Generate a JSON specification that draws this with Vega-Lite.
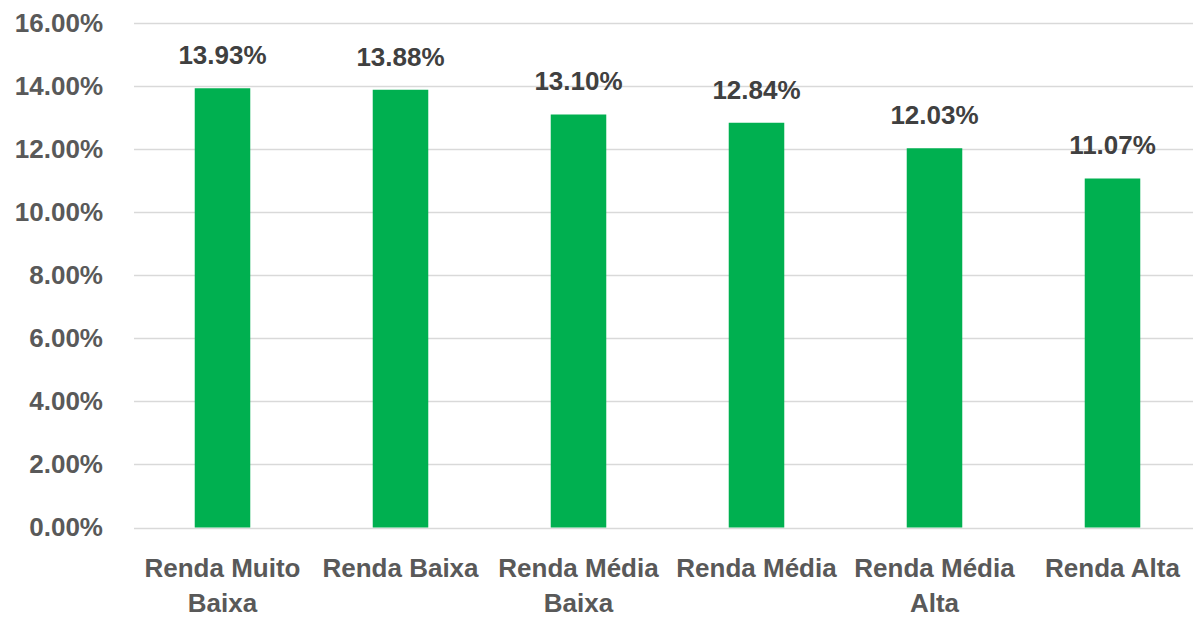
{
  "$schema": "https://vega.github.io/schema/vega-lite/v6.json",
  "width": 1059.5,
  "height": 504.5,
  "autosize": {"type": "none"},
  "padding": {"left": 133.5, "top": 23, "right": 0, "bottom": 89.5},
  "background": "white",
  "config": {"view": {"stroke": null}},
  "data": {
    "values": [
      {"categoria": "Renda Muito Baixa", "valor": 0.1393},
      {"categoria": "Renda Baixa", "valor": 0.1388},
      {"categoria": "Renda Média Baixa", "valor": 0.1310},
      {"categoria": "Renda Média", "valor": 0.1284},
      {"categoria": "Renda Média Alta", "valor": 0.1203},
      {"categoria": "Renda Alta", "valor": 0.1107}
    ]
  },
  "encoding": {
    "x": {
      "field": "categoria",
      "type": "nominal",
      "sort": null,
      "scale": {"range": [0, 1068], "paddingInner": 0.688, "paddingOuter": 0.344},
      "axis": {
        "title": null,
        "domain": false,
        "ticks": false,
        "tickSize": 0,
        "labelAngle": 0,
        "labelFont": "Liberation Sans",
        "labelFontWeight": "bold",
        "labelFontSize": 26,
        "labelColor": "#595959",
        "labelBaseline": "alphabetic",
        "labelPadding": 49,
        "labelLineHeight": 35,
        "labelLimit": 0,
        "labelExpr": "datum.label == 'Renda Muito Baixa' ? ['Renda Muito', 'Baixa'] : datum.label == 'Renda Média Baixa' ? ['Renda Média', 'Baixa'] : datum.label == 'Renda Média Alta' ? ['Renda Média', 'Alta'] : datum.label"
      }
    },
    "y": {
      "field": "valor",
      "type": "quantitative",
      "scale": {"domain": [0, 0.16], "nice": false},
      "axis": {
        "title": null,
        "format": ".2%",
        "values": [0, 0.02, 0.04, 0.06, 0.08, 0.1, 0.12, 0.14, 0.16],
        "domain": false,
        "ticks": false,
        "tickSize": 0,
        "grid": true,
        "gridColor": "#D9D9D9",
        "gridWidth": 1.5,
        "labelFont": "Liberation Sans",
        "labelFontWeight": "bold",
        "labelFontSize": 26,
        "labelColor": "#595959",
        "labelPadding": 31,
        "labelBaseline": "middle"
      }
    }
  },
  "layer": [
    {
      "mark": {"type": "bar", "color": "#00B050"}
    },
    {
      "mark": {
        "type": "text",
        "font": "Liberation Sans",
        "fontWeight": "bold",
        "fontSize": 26,
        "color": "#404040",
        "align": "center",
        "baseline": "alphabetic",
        "dy": -24
      },
      "encoding": {
        "text": {"field": "valor", "type": "quantitative", "format": ".2%"}
      }
    }
  ]
}
